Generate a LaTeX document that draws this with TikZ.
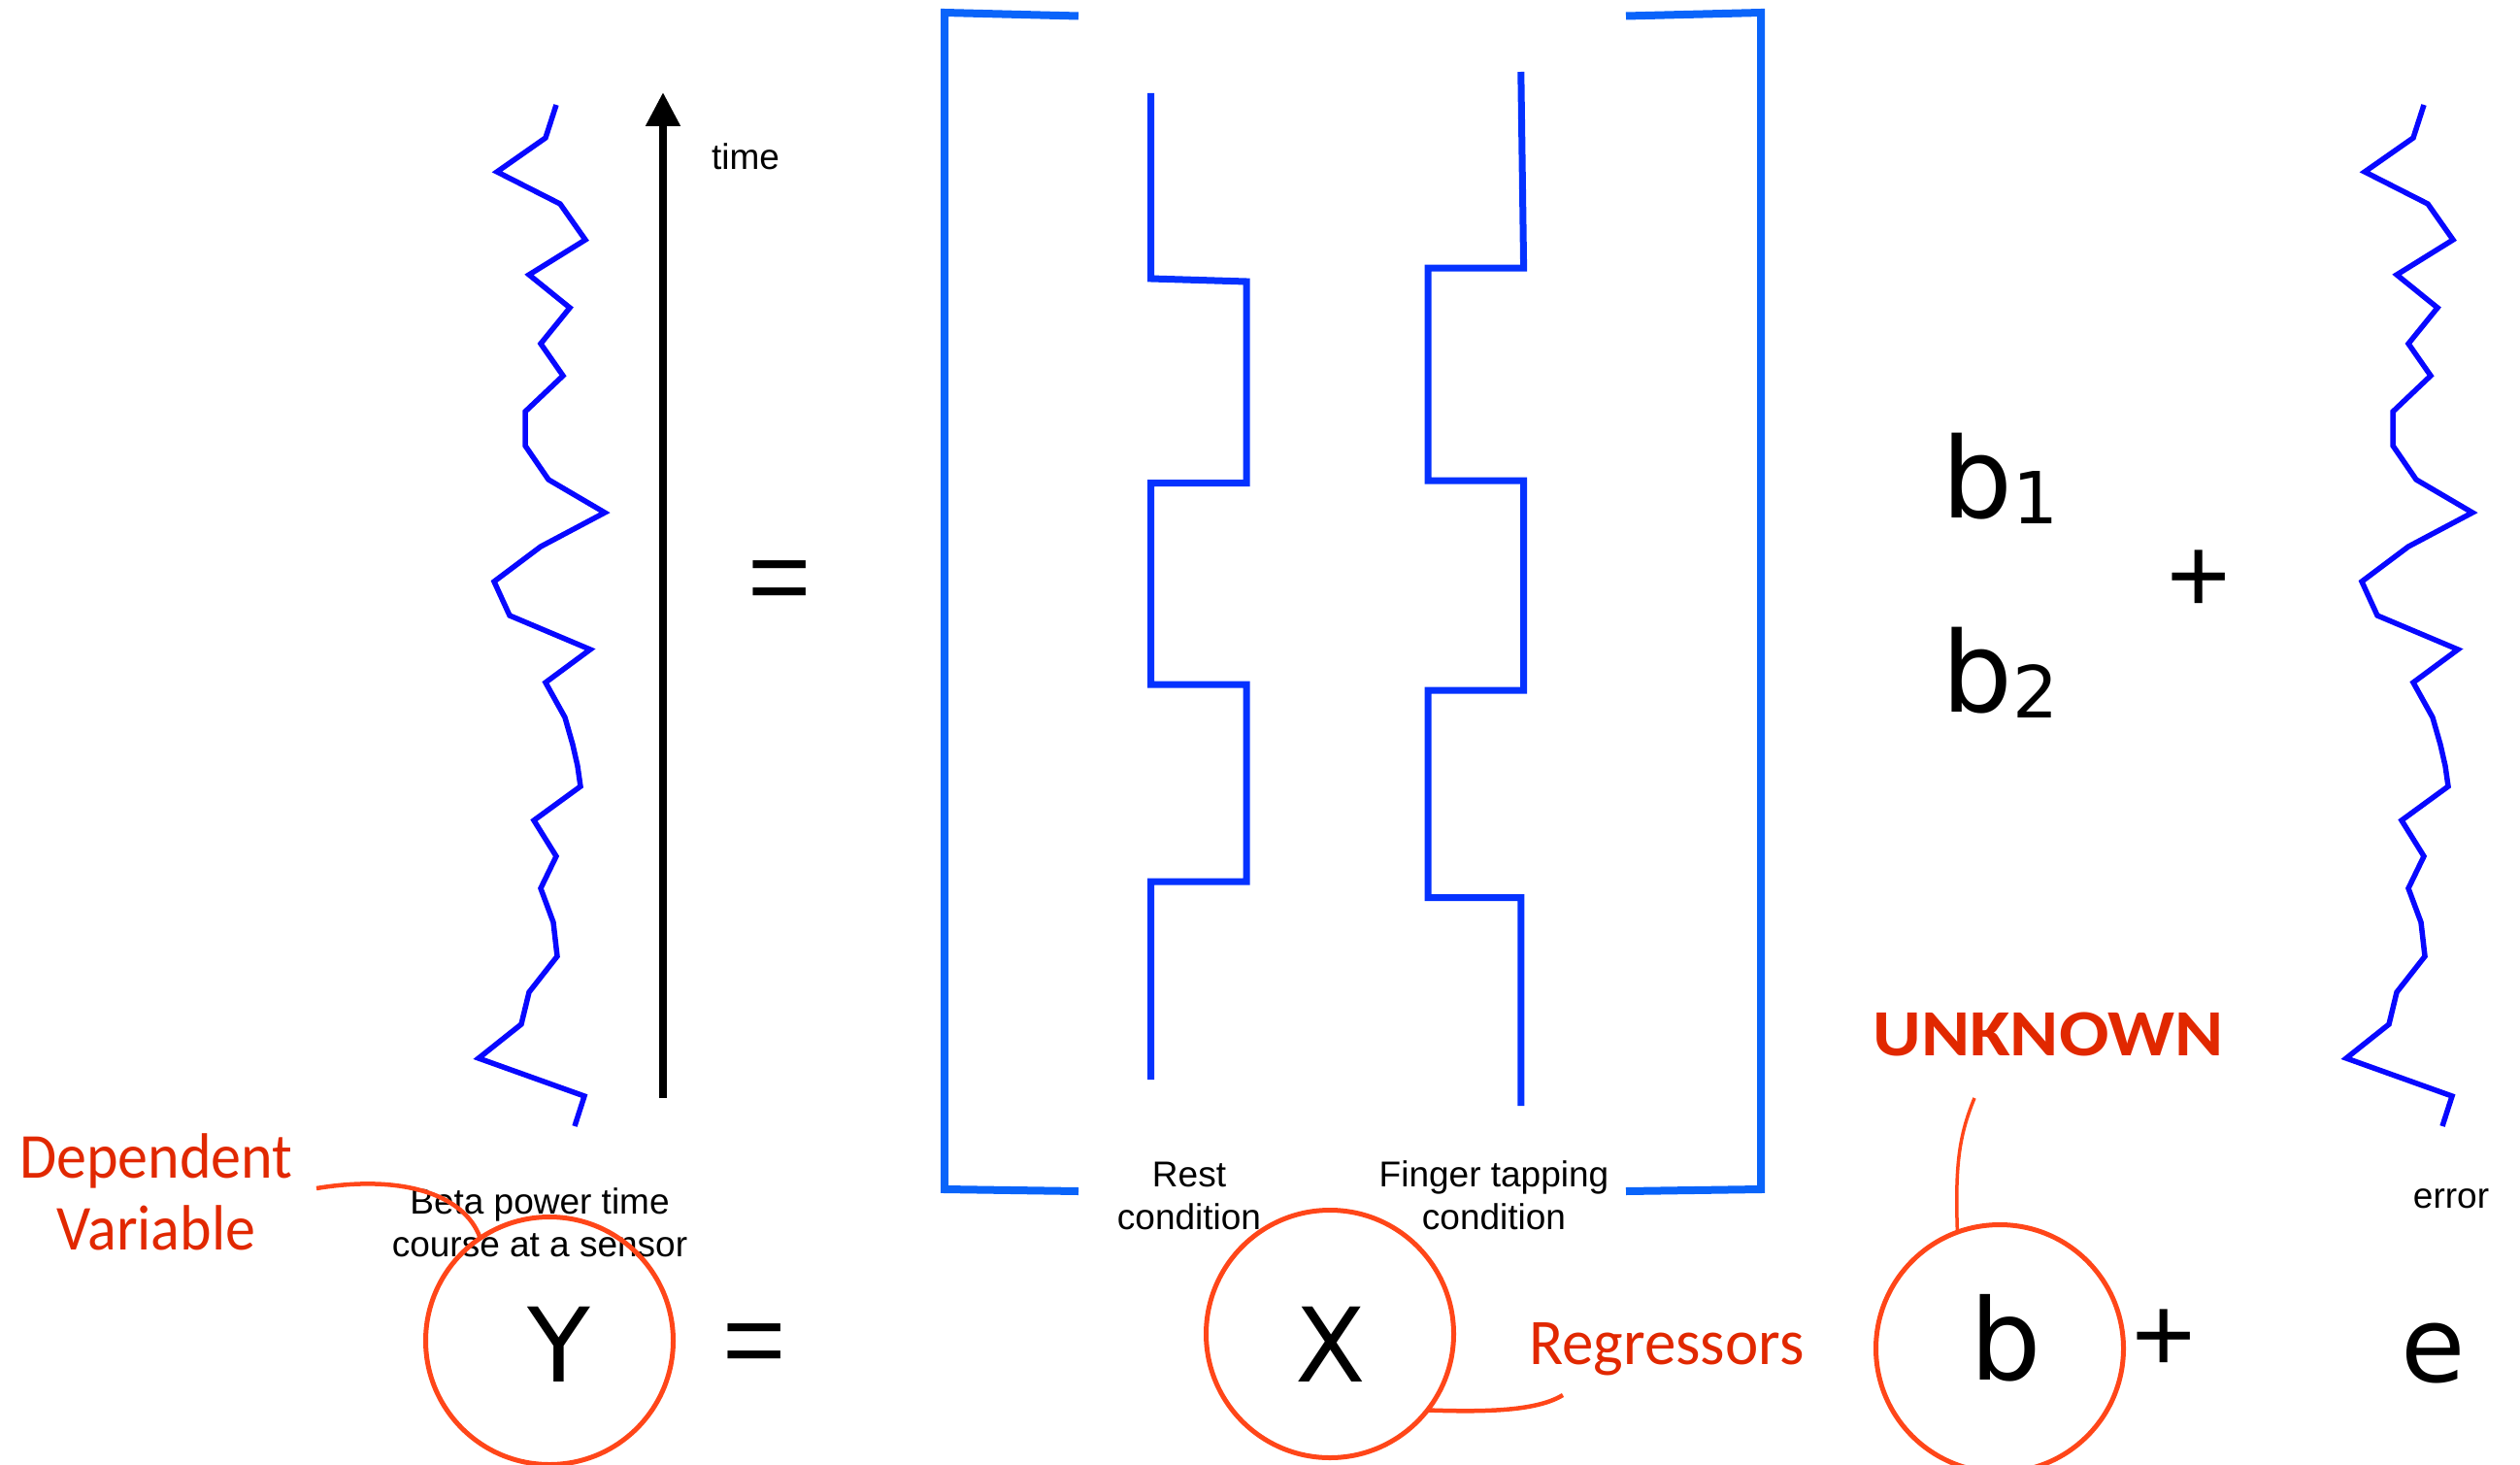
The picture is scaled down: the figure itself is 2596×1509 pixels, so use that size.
\documentclass[tikz,border=0pt]{standalone}
\usepackage{fontspec}
\setmainfont{Liberation Sans}
\newfontfamily\symfont{DejaVu Sans}
\newfontfamily\redfont[FakeStretch=0.94]{Carlito}
\newfontfamily\regfont[FakeStretch=0.97]{Carlito}
\newfontfamily\unkfont[FakeStretch=1.12]{Carlito}
\usetikzlibrary{arrows.meta}
\definecolor{wave}{RGB}{8,8,255}
\definecolor{design}{RGB}{5,50,255}
\definecolor{brk}{RGB}{10,100,250}
\definecolor{ringred}{RGB}{255,70,25}
\definecolor{notered}{RGB}{225,40,0}

\begin{document}
\begin{tikzpicture}[x=1pt,y=-1pt,
  txt/.style={inner sep=0pt,outer sep=0pt},
  small/.style={txt,font=\fontsize{37}{44}\selectfont,align=center},
  big/.style={txt,font=\symfont\fontsize{#1}{#1}\selectfont},
  op/.style={txt,font=\fontsize{112}{112}\selectfont},
  redlbl/.style={txt,text=notered,font=\redfont\fontsize{66}{74}\selectfont,align=center},
  ring/.style={draw=ringred,line width=5pt,circle,minimum size=255pt,inner sep=0pt,outer sep=0pt},
  lead/.style={draw=ringred,line width=4.5pt},
  trace/.style={draw=wave,line width=5.5pt,line join=miter,miter limit=4},
  regr/.style={draw=design,line width=7pt},
  bracket/.style={draw=brk,line width=8pt},
]
\useasboundingbox (0,0) rectangle (2596,1509);

% measured signal (left) and residual (right, same trace shifted)
\foreach \dx in {0,1924}{
  \draw[trace,xshift=\dx pt] (573,108) -- (562,142) -- (512,177) -- (577,210) -- (603,247)
    -- (545,283) -- (587,317) -- (557,354) -- (580,387) -- (541,424) -- (541,459)
    -- (565,494) -- (623,528) -- (557,563) -- (509,599) -- (525,634) -- (608,669)
    -- (562,703) -- (582,739) -- (590,767) -- (595,789) -- (598,810) -- (550,845)
    -- (573,882) -- (557,915) -- (570,950) -- (574,985) -- (545,1022) -- (537,1055)
    -- (493,1090) -- (602,1129) -- (592,1160);
}

% time axis
\coordinate (t0) at (683,1131);
\coordinate (t1) at (683,95);
\draw[line width=8pt,-{Triangle[width=34pt,length=35pt]}] (t0) -- (t1);
\node[txt,font=\fontsize{37}{44}\selectfont,anchor=base west] (timelbl) at (733,175) {time};

% equals sign (top row)
\node[op,anchor=base] (eqtop) at (803,632) {=};

% design matrix brackets
\draw[bracket] (1111,16.5) -- (973,13) -- (973,1225) -- (1111,1227);
\draw[bracket] (1675,16.5) -- (1814,13) -- (1814,1225) -- (1675,1227);

% regressors: rest and finger tapping boxcars
\draw[regr] (1185.6,96) -- (1185.6,287) -- (1284,290) -- (1284,497.5) -- (1185.6,497.5)
  -- (1185.6,705) -- (1284,705) -- (1284,908) -- (1185.6,908) -- (1185.6,1112);
\draw[regr] (1566.8,74) -- (1569.6,276) -- (1471,276) -- (1471,495) -- (1569.6,495)
  -- (1569.6,711) -- (1471,711) -- (1471,924.5) -- (1566.8,924.5) -- (1566.8,1139);

% two-line labels: base anchor sits on the last line
\node[small,anchor=base] (restlbl) at (1225,1266) {Rest\\condition};
\node[small,anchor=base] (fingerlbl) at (1539,1266) {Finger tapping\\condition};

% parameters
\node[big=115,anchor=base west] (bone) at (2000,533) {b\raisebox{-6pt}{\fontsize{74}{74}\selectfont 1}};
\node[big=115,anchor=base west] (btwo) at (2000,733) {b\raisebox{-6pt}{\fontsize{74}{74}\selectfont 2}};
\node[op,anchor=base] (plustop) at (2265,631) {+};

\node[small,anchor=base] (errlbl) at (2525,1244) {error};

% compact form: Y = X b + e
\node[small,anchor=base] (betalbl) at (556,1294) {Beta power time\\course at a sensor};
\node[ring] (ycirc) at (566,1381) {};
\node[big=106,anchor=base] (ysym) at (576,1423) {Y};
\node[op,anchor=base] (eqbot) at (777,1418) {=};
\node[ring] (xcirc) at (1370,1374) {};
\node[big=106,anchor=base] (xsym) at (1371,1423) {X};
\node[ring] (bcirc) at (2060,1389) {};
\node[big=116,anchor=base] (bsym) at (2066,1421) {b};
\node[op,anchor=base] (plusbot) at (2229,1413) {+};
\node[big=108,anchor=base] (esym) at (2507,1423) {e};

% red annotations
\node[redlbl,anchor=base] (deplbl) at (161,1287) {Dependent\\Variable};
\node[txt,text=notered,font=\regfont\fontsize{67}{74}\selectfont,anchor=base west] (reglbl) at (1575,1405) {Regressors};
\node[txt,text=notered,font=\unkfont\bfseries\fontsize{68}{74}\selectfont,anchor=base] (unklbl) at (2110,1087) {UNKNOWN};

\coordinate (dep-tail) at (326,1224);
\coordinate (reg-tail) at (1610,1437);
\coordinate (unk-tail) at (2034,1131);
\draw[lead] (dep-tail) .. controls (410,1210) and (478,1228) .. (ycirc.124);
\draw[lead] (reg-tail) .. controls (1585,1452) and (1540,1455) .. (xcirc.-38);
\draw[lead,line width=3.5pt] (unk-tail) .. controls (2018,1170) and (2014,1200) .. (bcirc.110);

\end{tikzpicture}
\end{document}
